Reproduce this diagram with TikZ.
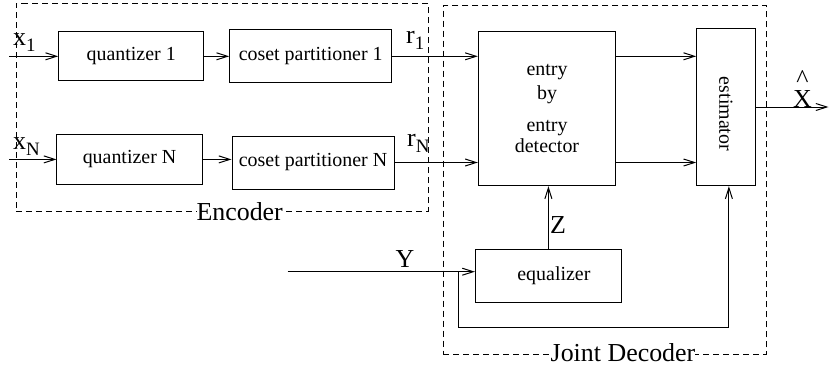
\documentclass[tikz,border=0pt]{standalone}
\usepackage{fontspec}
\usepackage{graphicx}
\setmainfont{Liberation Serif}
\usetikzlibrary{arrows.meta}
\newcommand{\lbsub}[1]{\raisebox{-6bp}{\fontsize{19}{19}\selectfont #1}}
\tikzset{
  blk/.style={draw, line width=1bp, inner sep=0pt, font=\fontsize{20}{21.5}\selectfont, align=center},
  lbl/.style={inner sep=0pt, font=\fontsize{26}{26}\selectfont},
  arr/.style={line width=1bp, -{Straight Barb[length=11bp,width=7bp]}},
  wire/.style={line width=1bp},
  dbox/.style={draw, line width=0.9bp, dash pattern=on 6bp off 4bp, inner sep=0pt}
}
\begin{document}
\begin{tikzpicture}[x=1bp,y=-1bp]
\useasboundingbox (0,0) rectangle (829,371);
% dashed groups
\node[dbox, minimum width=412bp, minimum height=207.5bp] (enc) at (222,107.25) {};
\node[dbox, minimum width=323.4bp, minimum height=348.3bp] (dec) at (605,179.85) {};
% blocks
\node[blk, minimum width=145bp, minimum height=49.3bp] (q1) at (131.2,56.3) {quantizer 1};
\node[blk, minimum width=162bp, minimum height=52.7bp] (cp1) at (310.7,56.3) {coset partitioner 1};
\node[blk, minimum width=145bp, minimum height=49.3bp] (qN) at (129.5,159.4) {quantizer N};
\node[blk, minimum width=162bp, minimum height=53bp] (cpN) at (313,162.5) {coset partitioner N};
\node[blk, minimum width=137.4bp, minimum height=154bp] (det) at (547,108.7) {entry\\[2.5bp]by\hspace*{8bp}\\[10bp]entry\\detector};
\node[blk, minimum width=58.3bp, minimum height=157.4bp] (est) at (725.85,107) {\rotatebox{-90}{\hspace*{14bp}estimator}};
\node[blk, minimum width=146bp, minimum height=52.9bp] (eq) at (548.4,275.75) {\hspace*{11bp}equalizer};
% coordinates
\coordinate (x1in) at (9.3,56.3);
\coordinate (xNin) at (9.3,159.4);
\coordinate (xout) at (828.5,107);
\coordinate (yin) at (287.7,271.7);
\coordinate (ybr) at (458.6,271.7);
\coordinate (fb) at (728.9,327);
% connectors
\draw[arr] (x1in) -- (q1.west);
\draw[arr] (xNin) -- (qN.west);
\draw[arr] (q1.east) -- (cp1.west);
\draw[arr] (qN.east) -- (qN.east -| cpN.west);
\draw[arr] (cp1.east) -- (cp1.east -| det.west);
\draw[arr] (cpN.east) -- (cpN.east -| det.west);
\draw[arr] (det.east |- cp1.east) -- (est.west |- cp1.east);
\draw[arr] (det.east |- cpN.east) -- (est.west |- cpN.east);
\draw[arr] (est.east) -- (xout);
\draw[arr] (eq.north) -- (eq.north |- det.south);
\draw[arr] (yin) -- (yin -| eq.west);
\draw[arr] (ybr) |- (fb) -- (fb |- est.south);
% labels
\node[lbl, anchor=base west] (lx1) at (13,45.7) {x\lbsub{1}};
\node[lbl, anchor=base west] (lxN) at (13,149.5) {x\lbsub{N}};
\node[lbl, anchor=base west] (lr1) at (406,43.3) {r\lbsub{1}};
\node[lbl, anchor=base west] (lrN) at (407,146.7) {r\lbsub{N}};
\node[lbl, anchor=base] (lY) at (405,267.5) {Y};
\node[lbl, anchor=base] (lZ) at (558,233.6) {Z};
\node[lbl, anchor=south, align=center, font=\fontsize{26}{20}\selectfont] (lX) at (802.5,107.7) {\textasciicircum\\X};
\node[lbl, anchor=base, fill=white] (lenc) at (239.7,220) {Encoder};
\node[lbl, anchor=base, fill=white] (ldec) at (623,361) {Joint Decoder};
\end{tikzpicture}
\end{document}
